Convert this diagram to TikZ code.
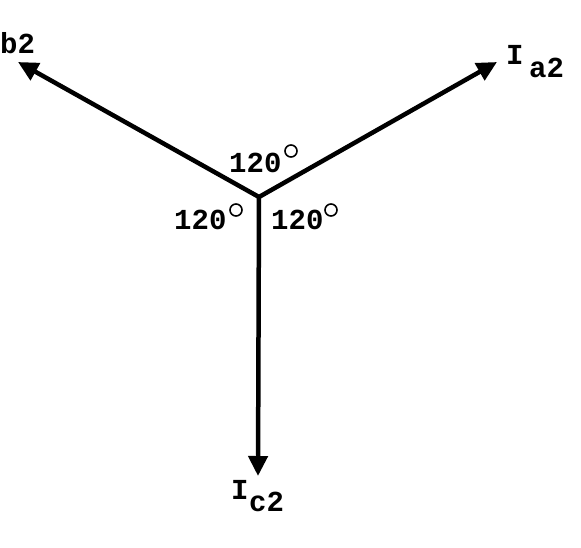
\documentclass[tikz,border=0pt]{standalone}
\usepackage{fontspec}
\setmainfont{Liberation Mono}
\usetikzlibrary{arrows.meta}
\tikzset{
  vec/.style={line width=4.5pt,-{Triangle[length=20pt,width=19pt]}},
  lbl/.style={inner sep=0pt,anchor=base west,font=\fontsize{29}{29}\selectfont\bfseries},
  degc/.style={circle,draw,line width=1.6pt,inner sep=0pt,minimum size=12pt}
}
\begin{document}
\begin{tikzpicture}[x=1pt,y=-1pt]
\useasboundingbox (0,0) rectangle (581,547);
\coordinate (O) at (259,197);
\coordinate (A) at (497,62);
\coordinate (B) at (18,62);
\coordinate (C) at (258,476);
\draw[vec] (O) -- (A);
\draw[vec] (O) -- (B);
\draw[vec] (O) -- (C);
\node[lbl] (ang1) at (229,172) {120};
\node[degc] (deg1) at (291,151) {};
\node[lbl] (ang2) at (174,229) {120};
\node[degc] (deg2) at (236,210) {};
\node[lbl] (ang3) at (271,229) {120};
\node[degc] (deg3) at (331,210) {};
\node[lbl] (lb) at (0,53) {b2};
\node[lbl] (la1) at (506,64) {I};
\node[lbl] (la2) at (529,77) {a2};
\node[lbl] (lc1) at (231,499) {I};
\node[lbl] (lc2) at (249,511) {c2};
\end{tikzpicture}
\end{document}
